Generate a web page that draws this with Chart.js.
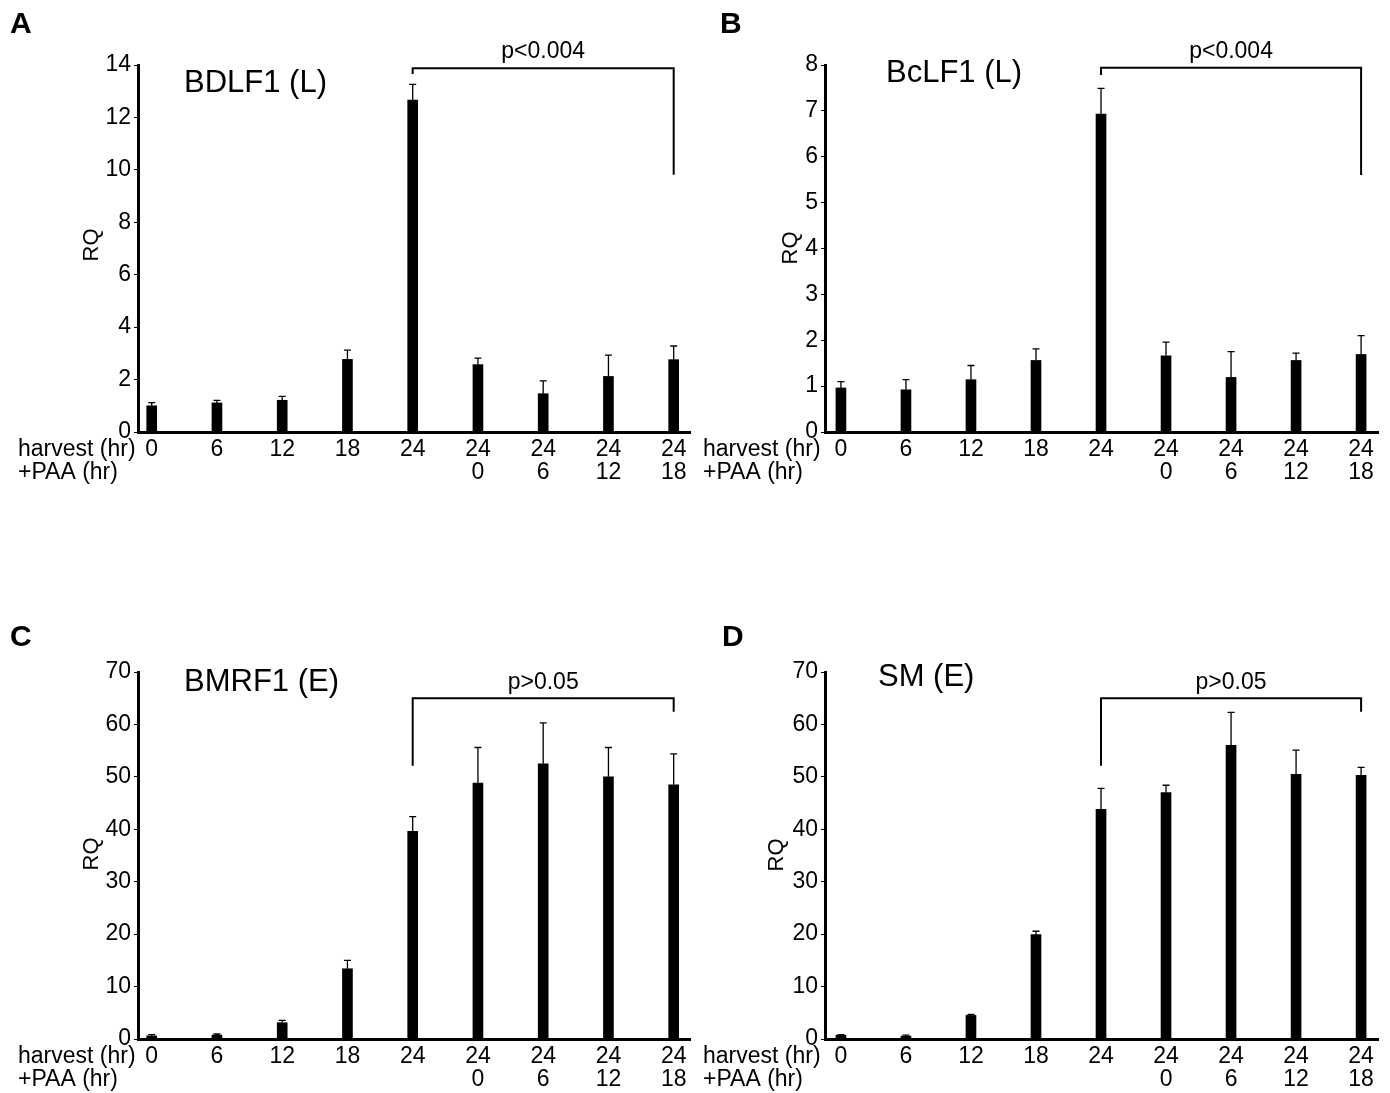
<!DOCTYPE html>
<html lang="en">
<head>
<meta charset="UTF-8">
<title>RQ panels</title>
<style>
  body { margin: 0; background: #fff; }
  #wrap { position: relative; width: 1390px; height: 1093px; overflow: hidden; }
  canvas { position: absolute; }
</style>
</head>
<body>
<div id="wrap"></div>
<script src="https://cdn.jsdelivr.net/npm/chart.js@4.4.1/dist/chart.umd.min.js"></script>
<script>
// x categories
const harvestLabels = ['0', '6', '12', '18', '24', '24', '24', '24', '24'];
const paaLabels = ['', '', '', '', '', '0', '6', '12', '18'];

// RQ means and upper error (SD) per panel
const bdlf1 = [1.0, 1.11, 1.21, 2.77, 12.66, 2.57, 1.46, 2.12, 2.76];
const bdlf1Err = [0.12, 0.10, 0.15, 0.35, 0.60, 0.25, 0.49, 0.81, 0.52];
const bclf1 = [0.96, 0.92, 1.14, 1.56, 6.93, 1.66, 1.19, 1.56, 1.69];
const bclf1Err = [0.14, 0.22, 0.31, 0.25, 0.56, 0.30, 0.56, 0.16, 0.41];
const bmrf1 = [0.6, 0.75, 3.1, 13.4, 39.6, 48.8, 52.5, 50.0, 48.5];
const bmrf1Err = [0.25, 0.2, 0.45, 1.6, 2.8, 6.8, 7.8, 5.6, 5.9];
const sm = [0.7, 0.55, 4.5, 19.9, 43.8, 47.0, 56.0, 50.5, 50.3];
const smErr = [0.15, 0.2, 0.2, 0.65, 4.0, 1.4, 6.3, 4.6, 1.5];

// y axis ticks
const yTicksA = [0, 2, 4, 6, 8, 10, 12, 14];
const yTicksB = [0, 1, 2, 3, 4, 5, 6, 7, 8];
const yTicksE = [0, 10, 20, 30, 40, 50, 60, 70];

const FONT = "'Liberation Sans', Arial, Helvetica, sans-serif";

const panels = [
  { letter: 'A', cv: { x: 0, y: 0, w: 695, h: 500 }, area: { l: 138, r: 690, t: 65, b: 432 },
    xMin: -0.21, xMax: 8.25, yTicks: yTicksA, values: bdlf1, errors: bdlf1Err,
    title: 'BDLF1 (L)', titlePos: [184, 83], p: 'p<0.004', bracket: [13.88, 13.66, 9.81],
    rq: [92, 245], letterPos: [10, 25], rowX: 18 },
  { letter: 'B', cv: { x: 695, y: 0, w: 695, h: 500 }, area: { l: 825, r: 1378, t: 65, b: 432 },
    xMin: -0.245, xMax: 8.26, yTicks: yTicksB, values: bclf1, errors: bclf1Err,
    title: 'BcLF1 (L)', titlePos: [886, 73], p: 'p<0.004', bracket: [7.94, 7.78, 5.6],
    rq: [791, 248], letterPos: [720, 25], rowX: 703 },
  { letter: 'C', cv: { x: 0, y: 590, w: 695, h: 503 }, area: { l: 138, r: 690, t: 672, b: 1039 },
    xMin: -0.21, xMax: 8.25, yTicks: yTicksE, values: bmrf1, errors: bmrf1Err,
    title: 'BMRF1 (E)', titlePos: [184, 682], p: 'p>0.05', bracket: [65.0, 52.1, 62.4],
    rq: [92, 854], letterPos: [10, 638], rowX: 18 },
  { letter: 'D', cv: { x: 695, y: 590, w: 695, h: 503 }, area: { l: 825, r: 1378, t: 672, b: 1039 },
    xMin: -0.245, xMax: 8.26, yTicks: yTicksE, values: sm, errors: smErr,
    title: 'SM (E)', titlePos: [878, 677], p: 'p>0.05', bracket: [65.0, 52.1, 62.4],
    rq: [777, 855], letterPos: [722, 638], rowX: 703 }
];

// error bars, bracket and all the loose text
const extras = {
  id: 'extras',
  afterDatasetsDraw(chart, args, opts) {
    const p = opts.panel;
    const ctx = chart.ctx;
    const xs = chart.scales.x, ys = chart.scales.y;
    const ox = p.cv.x, oy = p.cv.y;
    ctx.save();
    ctx.strokeStyle = '#000';
    ctx.lineWidth = 1.3;
    p.values.forEach((v, i) => {
      const x = xs.getPixelForValue(i);
      const y0 = ys.getPixelForValue(v);
      const y1 = ys.getPixelForValue(v + p.errors[i]);
      ctx.beginPath();
      ctx.moveTo(x, y0); ctx.lineTo(x, y1);
      ctx.moveTo(x - 3.5, y1); ctx.lineTo(x + 3.5, y1);
      ctx.stroke();
    });

    // significance bracket between 24 and 24/18
    const bx1 = xs.getPixelForValue(4), bx2 = xs.getPixelForValue(8);
    const by = ys.getPixelForValue(p.bracket[0]);
    ctx.lineWidth = 2;
    ctx.beginPath();
    ctx.moveTo(bx1, ys.getPixelForValue(p.bracket[1]));
    ctx.lineTo(bx1, by); ctx.lineTo(bx2, by);
    ctx.lineTo(bx2, ys.getPixelForValue(p.bracket[2]));
    ctx.stroke();

    ctx.fillStyle = '#000';
    ctx.textBaseline = 'middle';
    ctx.textAlign = 'center';
    ctx.font = '23px ' + FONT;
    ctx.fillText(p.p, (bx1 + bx2) / 2, by - 16);

    ctx.textAlign = 'left';
    ctx.font = '31px ' + FONT;
    ctx.fillText(p.title, p.titlePos[0] - ox, p.titlePos[1] - oy);

    ctx.font = 'bold 30px ' + FONT;
    ctx.fillText(p.letter, p.letterPos[0] - ox, p.letterPos[1] - oy);

    ctx.font = '23px ' + FONT;
    const rowY = chart.chartArea.bottom;
    ctx.fillText('harvest (hr)', p.rowX - ox, rowY + 18);
    ctx.fillText('+PAA (hr)', p.rowX - ox, rowY + 41);

    ctx.save();
    ctx.translate(p.rq[0] - ox, p.rq[1] - oy);
    ctx.rotate(-Math.PI / 2);
    ctx.textAlign = 'center';
    ctx.font = '22px ' + FONT;
    ctx.fillText('RQ', 0, 0);
    ctx.restore();
    ctx.restore();
  }
};

const wrap = document.getElementById('wrap');

panels.forEach(p => {
  const canvas = document.createElement('canvas');
  canvas.width = p.cv.w; canvas.height = p.cv.h;
  canvas.style.left = p.cv.x + 'px';
  canvas.style.top = p.cv.y + 'px';
  canvas.style.width = p.cv.w + 'px';
  canvas.style.height = p.cv.h + 'px';
  wrap.appendChild(canvas);

  const yMax = p.yTicks[p.yTicks.length - 1];

  new Chart(canvas.getContext('2d'), {
    type: 'bar',
    data: {
      datasets: [{
        data: p.values.map((v, i) => ({ x: i, y: v })),
        backgroundColor: '#000',
        borderWidth: 0,
        barThickness: 10
      }]
    },
    options: {
      responsive: false,
      animation: false,
      devicePixelRatio: 1,
      layout: {
        padding: {
          left: 0,
          top: p.area.t - p.cv.y,
          right: p.cv.x + p.cv.w - p.area.r,
          bottom: 0
        }
      },
      plugins: {
        legend: { display: false },
        tooltip: { enabled: false },
        extras: { panel: p }
      },
      scales: {
        x: {
          type: 'linear',
          offset: false,
          min: p.xMin,
          max: p.xMax,
          afterFit: s => { s.height = p.cv.y + p.cv.h - p.area.b; },
          afterBuildTicks: s => { s.ticks = harvestLabels.map((_, i) => ({ value: i })); },
          grid: { display: false, drawTicks: false, offset: false },
          border: { display: true, color: '#000', width: 3 },
          ticks: {
            autoSkip: false,
            maxRotation: 0,
            padding: 6,
            color: '#000',
            font: { family: FONT, size: 23, lineHeight: 1.0 },
            callback: v => [harvestLabels[v], paaLabels[v]]
          }
        },
        y: {
          min: 0,
          max: yMax,
          afterFit: s => { s.width = p.area.l - p.cv.x; },
          afterBuildTicks: s => { s.ticks = p.yTicks.map(v => ({ value: v })); },
          grid: { drawOnChartArea: false, drawTicks: true, tickLength: 4, color: '#000', lineWidth: 1 },
          border: { display: true, color: '#000', width: 3 },
          ticks: {
            padding: 3,
            color: '#000',
            font: { family: FONT, size: 23 }
          }
        }
      }
    },
    plugins: [extras]
  });
});
</script>
</body>
</html>
